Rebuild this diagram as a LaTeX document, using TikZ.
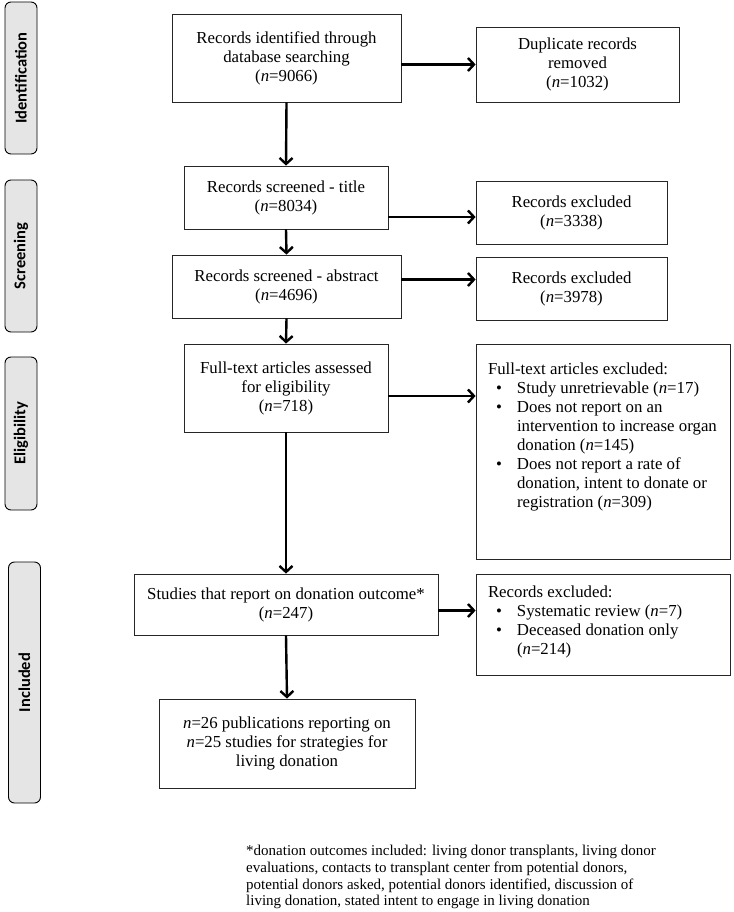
\documentclass[tikz,border=0pt]{standalone}
\usepackage{fontspec}
\setmainfont{Liberation Serif}
\newfontfamily\phasefont{Carlito}
\usetikzlibrary{arrows.meta}
\newcommand{\bitem}{\hspace*{8pt}\makebox[21pt][l]{\textbullet}}
\newcommand{\bcont}{\hspace*{29pt}}
\tikzset{
    phase/.style={draw=black, line width=0.9pt, fill=gray!20, rounded corners=6pt,
        rotate=90, minimum height=32pt, inner sep=0pt,
        font=\phasefont\bfseries\fontsize{16.5}{19}\selectfont},
    stage/.style={draw=black!85, line width=0.8pt, align=center, inner sep=0pt,
        font=\fontsize{16.8}{19}\selectfont},
    list/.style={draw=black!85, line width=0.8pt, inner xsep=12pt,
        font=\fontsize{16.8}{19}\selectfont},
    arr/.style={line width=2.4pt, -{Straight Barb[length=6pt,width=13pt]}}
}
\begin{document}
\begin{tikzpicture}[x=1pt, y=-1pt]
            \useasboundingbox (0,0) rectangle (733,912);

            \node[phase, minimum width=152pt] (ident) at (21,78) {Identification};
            \node[phase, minimum width=152pt] (screen) at (21,256) {Screening};
            \node[phase, minimum width=153pt] (elig) at (21,433.5) {Eligibility};
            \node[phase, minimum width=241pt] (inclLab) at (24.5,682.5) {Included};

            \node[stage, minimum width=229pt, minimum height=88pt] (found) at (286.5,58)
                {Records identified through\\database searching\\(\textit{n}=9066)};
            \node[stage, minimum width=203pt, minimum height=75pt] (dupl) at (577.5,64.5)
                {Duplicate records\\removed\\(\textit{n}=1032)};
            \node[stage, minimum width=204pt, minimum height=63pt] (title) at (286,197.5)
                {Records screened - title\\(\textit{n}=8034)};
            \node[stage, minimum width=191pt, minimum height=63pt] (exTitle) at (571.5,212.5)
                {Records excluded\\(\textit{n}=3338)};
            \node[stage, minimum width=229pt, minimum height=63pt] (abstr) at (286.5,286.5)
                {Records screened - abstract\\(\textit{n}=4696)};
            \node[stage, minimum width=191pt, minimum height=63pt] (exAbstr) at (571.5,288.5)
                {Records excluded\\(\textit{n}=3978)};
            \node[stage, minimum width=204pt, minimum height=88pt] (full) at (286,388)
                {Full-text articles assessed\\for eligibility\\(\textit{n}=718)};
            \node[list, inner ysep=19pt] (exFull) at (603,451.5)
                {\begin{minipage}[c][177pt][t]{230pt}
                Full-text articles excluded:\\
                \bitem Study unretrievable (\textit{n}=17)\\
                \bitem Does not report on an\\
                \bcont intervention to increase organ\\
                \bcont donation (\textit{n}=145)\\
                \bitem Does not report a rate of\\
                \bcont donation, intent to donate or\\
                \bcont registration (\textit{n}=309)
                \end{minipage}};
            \node[stage, minimum width=304pt, minimum height=61pt] (outc) at (286,604.5)
                {Studies that report on donation outcome*\\(\textit{n}=247)};
            \node[list, inner ysep=12pt] (exOutc) at (603,624.5)
                {\begin{minipage}[c][77pt][t]{230pt}
                Records excluded:\\
                \bitem Systematic review (\textit{n}=7)\\
                \bitem Deceased donation only\\
                \bcont (\textit{n}=214)
                \end{minipage}};
            \node[stage, minimum width=256pt, minimum height=89pt] (incl) at (287,743.5)
                {\textit{n}=26 publications reporting on\\\textit{n}=25 studies for strategies for\\living donation};

            \node[anchor=north west, align=left, inner sep=0pt,
                font=\fontsize{15}{16.7}\selectfont] (note) at (246,845)
                {*donation outcomes included: living donor transplants, living donor\\
                evaluations, contacts to transplant center from potential donors,\\
                potential donors asked, potential donors identified, discussion of\\
                living donation, stated intent to engage in living donation};

            \draw[arr] (found.south) -- (title.north);
            \draw[arr] (title.south) -- (abstr.north);
            \draw[arr] (abstr.south) -- (full.north);
            \draw[arr] (full.south) -- (outc.north);
            \draw[arr] (outc.south) -- (incl.north);

            \draw[arr] (found.east |- dupl.west) -- (dupl.west);
            \draw[arr] ([yshift=-4.5pt]title.east |- exTitle.west) -- ([yshift=-4.5pt]exTitle.west);
            \draw[arr] ([yshift=7pt]abstr.east) -- ([yshift=7pt]abstr.east -| exAbstr.west);
            \draw[arr] ([yshift=-8pt]full.east) -- ([yshift=-8pt]full.east -| exFull.west);
            \draw[arr] ([yshift=-6pt]outc.east) -- ([yshift=-6pt]outc.east -| exOutc.west);
\end{tikzpicture}
\end{document}
